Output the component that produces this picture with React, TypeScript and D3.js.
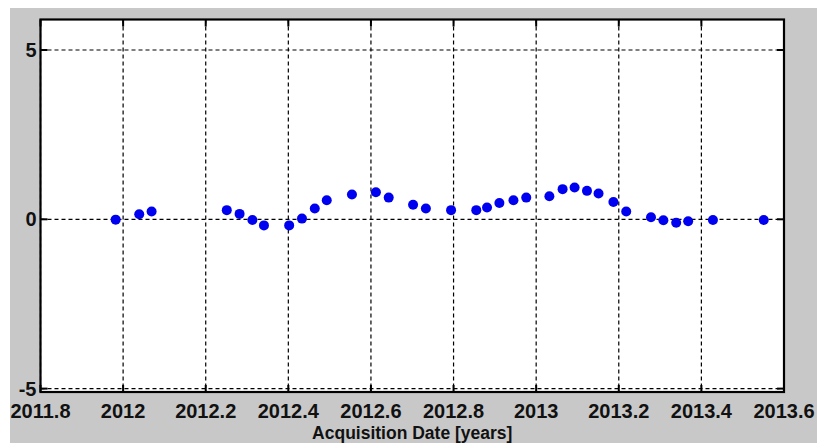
import React from "react";
import * as d3 from "d3";

const dates: number[] = [
  2011.982, 2012.039, 2012.069, 2012.251, 2012.282, 2012.313, 2012.341, 2012.402,
  2012.433, 2012.464, 2012.493, 2012.554, 2012.612, 2012.643, 2012.702, 2012.733,
  2012.794, 2012.855, 2012.881, 2012.911, 2012.945, 2012.976, 2013.032, 2013.064,
  2013.093, 2013.123, 2013.151, 2013.187, 2013.218, 2013.278, 2013.308, 2013.339,
  2013.368, 2013.428, 2013.551,
];
const values: number[] = [
  -0.01, 0.15, 0.23, 0.27, 0.16, -0.02, -0.18, -0.18,
  0.02, 0.32, 0.56, 0.73, 0.8, 0.64, 0.43, 0.32,
  0.27, 0.27, 0.35, 0.48, 0.56, 0.64, 0.68, 0.89,
  0.94, 0.84, 0.76, 0.51, 0.23, 0.06, -0.03, -0.1,
  -0.06, -0.02, -0.02,
];
const xTicks: number[] = [2011.8, 2012, 2012.2, 2012.4, 2012.6, 2012.8, 2013, 2013.2, 2013.4, 2013.6];
const yTicks: number[] = [-5, 0, 5];
const xLabel = "Acquisition Date [years]";

const W = 817;
const H = 443;
const L = 40.5, R = 784, T = 19.5, B = 392;

export default function App() {
  const x = d3.scaleLinear().domain([2011.8, 2013.6]).range([L, R]);
  const y = d3.scaleLinear().domain([-5.1, 5.9]).range([B, T]);
  const fmt = (v: number) => String(Math.round(v * 10) / 10);
  const font = "'Liberation Sans', Arial, sans-serif";
  return (
    <div style={{ position: "absolute", left: 0, top: 0 }}>
      <svg width={W} height={H} style={{ display: "block", background: "#fff" }}>
        <rect x={10} y={8} width={W - 10} height={H - 8} fill="#c8c8c8" />
        <rect x={L} y={T} width={R - L} height={B - T} fill="#fff" />
        {xTicks.map((t, i) => (
          <line key={"gx" + i} x1={x(t)} x2={x(t)} y1={T} y2={B} stroke="#000" strokeWidth={1.2} strokeDasharray="4,3" />
        ))}
        {yTicks.map((t, i) => (
          <line key={"gy" + i} x1={L} x2={R} y1={y(t)} y2={y(t)} stroke="#000" strokeWidth={1.2} strokeDasharray="4,3" />
        ))}
        {xTicks.map((t, i) => (
          <g key={"tx" + i}>
            <line x1={x(t)} x2={x(t)} y1={B} y2={B - 7} stroke="#000" strokeWidth={2} />
            <line x1={x(t)} x2={x(t)} y1={T} y2={T + 7} stroke="#000" strokeWidth={2} />
          </g>
        ))}
        {yTicks.map((t, i) => (
          <g key={"ty" + i}>
            <line x1={L} x2={L + 7} y1={y(t)} y2={y(t)} stroke="#000" strokeWidth={2} />
            <line x1={R} x2={R - 7} y1={y(t)} y2={y(t)} stroke="#000" strokeWidth={2} />
          </g>
        ))}
        {dates.map((d, i) => (
          <circle key={"p" + i} cx={x(d)} cy={y(values[i])} r={5} fill="#0000f0" />
        ))}
        <rect x={L} y={T} width={R - L} height={B - T} fill="none" stroke="#000" strokeWidth={2.2} />
        {xTicks.map((t, i) => (
          <text key={"lx" + i} x={x(t)} y={418} textAnchor="middle" fontFamily={font} fontWeight="bold" fontSize={20} fill="#111">
            {fmt(t)}
          </text>
        ))}
        {yTicks.map((t, i) => (
          <text key={"ly" + i} x={L - 4} y={y(t) + 7} textAnchor="end" fontFamily={font} fontWeight="bold" fontSize={20} fill="#111">
            {fmt(t)}
          </text>
        ))}
        <text x={(L + R) / 2} y={439} textAnchor="middle" fontFamily={font} fontWeight="bold" fontSize={17.5} fill="#111">
          {xLabel}
        </text>
      </svg>
    </div>
  );
}
